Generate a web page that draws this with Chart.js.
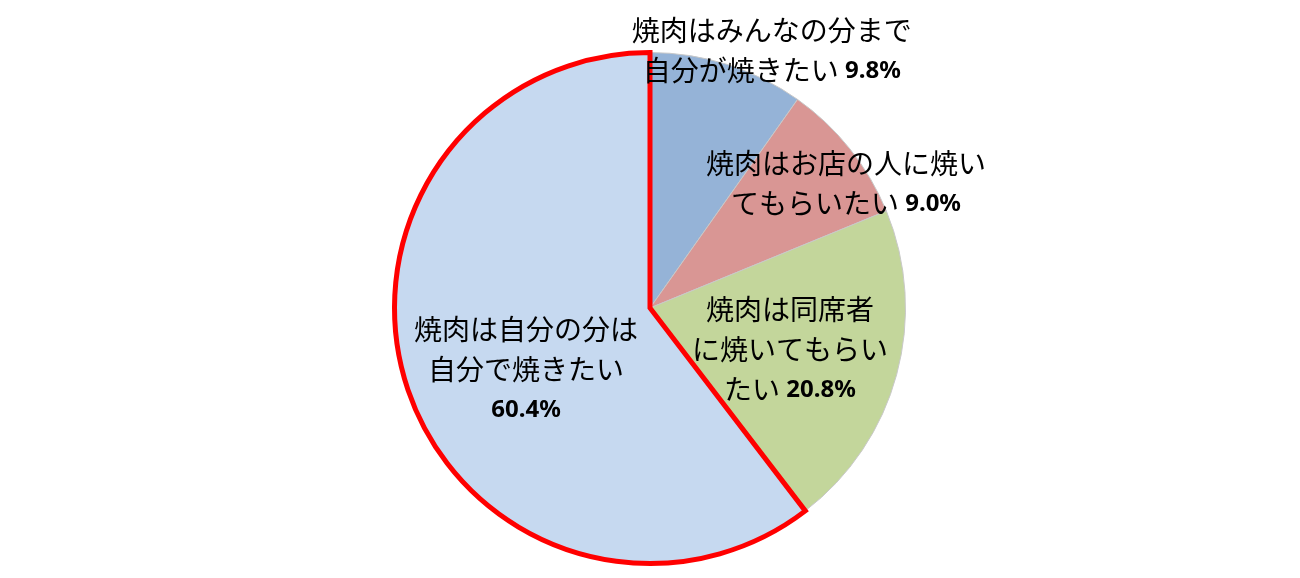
<!DOCTYPE html>
<html>
<head>
<meta charset="utf-8">
<script src="https://cdn.jsdelivr.net/npm/chart.js@4.4.0/dist/chart.umd.min.js"></script>
<style>
  html, body { margin: 0; padding: 0; background: #fff; }
  #wrap { width: 1300px; height: 578px; }
</style>
</head>
<body>
<div id="wrap"><canvas id="myChart" width="1300" height="578"></canvas></div>
<script>
// カテゴリ名（改行位置は表示用）
const categories = [
    '焼肉はみんなの分まで\n自分が焼きたい',
    '焼肉はお店の人に焼い\nてもらいたい',
    '焼肉は同席者\nに焼いてもらい\nたい',
    '焼肉は自分の分は\n自分で焼きたい'
];
// 割合(%)
const values = [9.8, 9.0, 20.8, 60.4];
const colors = ['#95B3D7', '#D99694', '#C3D69B', '#C6D9F0'];

// ラベル位置（中心からの相対位置、半径比）
const labelPos = [[0.477, -1.01], [0.767, -0.489], [0.548, 0.160], [-0.485, 0.239]];
// パーセントを改行して出すかどうか
const pctNewLine = [false, false, false, true];

const jpFont = '28px "Noto Sans CJK JP"';
const pctFont = 'bold 24px "Noto Sans"';
const lineH = 40;

//ラベル描画用プラグイン
const labelPlugin = {
    id: 'sliceLabels',
    afterDatasetsDraw(chart) {
        const ctx = chart.ctx;
        const arcs = chart.getDatasetMeta(0).data;
        ctx.save();
        ctx.fillStyle = '#000';
        ctx.textBaseline = 'middle';
        ctx.textAlign = 'left';
        arcs.forEach((arc, i) => {
            const r = arc.outerRadius;
            const cx = arc.x + labelPos[i][0] * r;
            const cy = arc.y + labelPos[i][1] * r;
            const pct = values[i].toFixed(1) + '%';
            let lines = categories[i].split('\n').map(t => ({ t: t, p: '' }));
            if (pctNewLine[i]) {
                lines.push({ t: '', p: pct });
            } else {
                lines[lines.length - 1].p = ' ' + pct;
            }
            const top = cy - (lines.length - 1) * lineH / 2;
            lines.forEach((ln, k) => {
                ctx.font = jpFont;
                const w1 = ctx.measureText(ln.t).width;
                ctx.font = pctFont;
                const w2 = ctx.measureText(ln.p).width;
                let x = cx - (w1 + w2) / 2;
                const y = top + k * lineH;
                ctx.font = jpFont;
                ctx.fillText(ln.t, x, y);
                ctx.font = pctFont;
                ctx.fillText(ln.p, x + w1, y + 1);
            });
        });
        ctx.restore();
    }
};

const elem = document.getElementById('myChart');
const chart = new Chart(elem, {
    type: 'pie',
    data: {
        labels: categories,
        datasets: [{
            data: values,
            backgroundColor: colors,
            borderColor: ['#C8C8C8', '#C8C8C8', '#C8C8C8', '#FF0000'],
            borderWidth: [1, 1, 1, 5],
            borderJoinStyle: 'miter'
        }]
    },
    options: {
        responsive: false,
        animation: false,
        layout: { padding: { top: 50, bottom: 12 } },
        plugins: {
            legend: { display: false },
            tooltip: { enabled: false }
        }
    },
    plugins: [labelPlugin]
});
</script>
</body>
</html>
